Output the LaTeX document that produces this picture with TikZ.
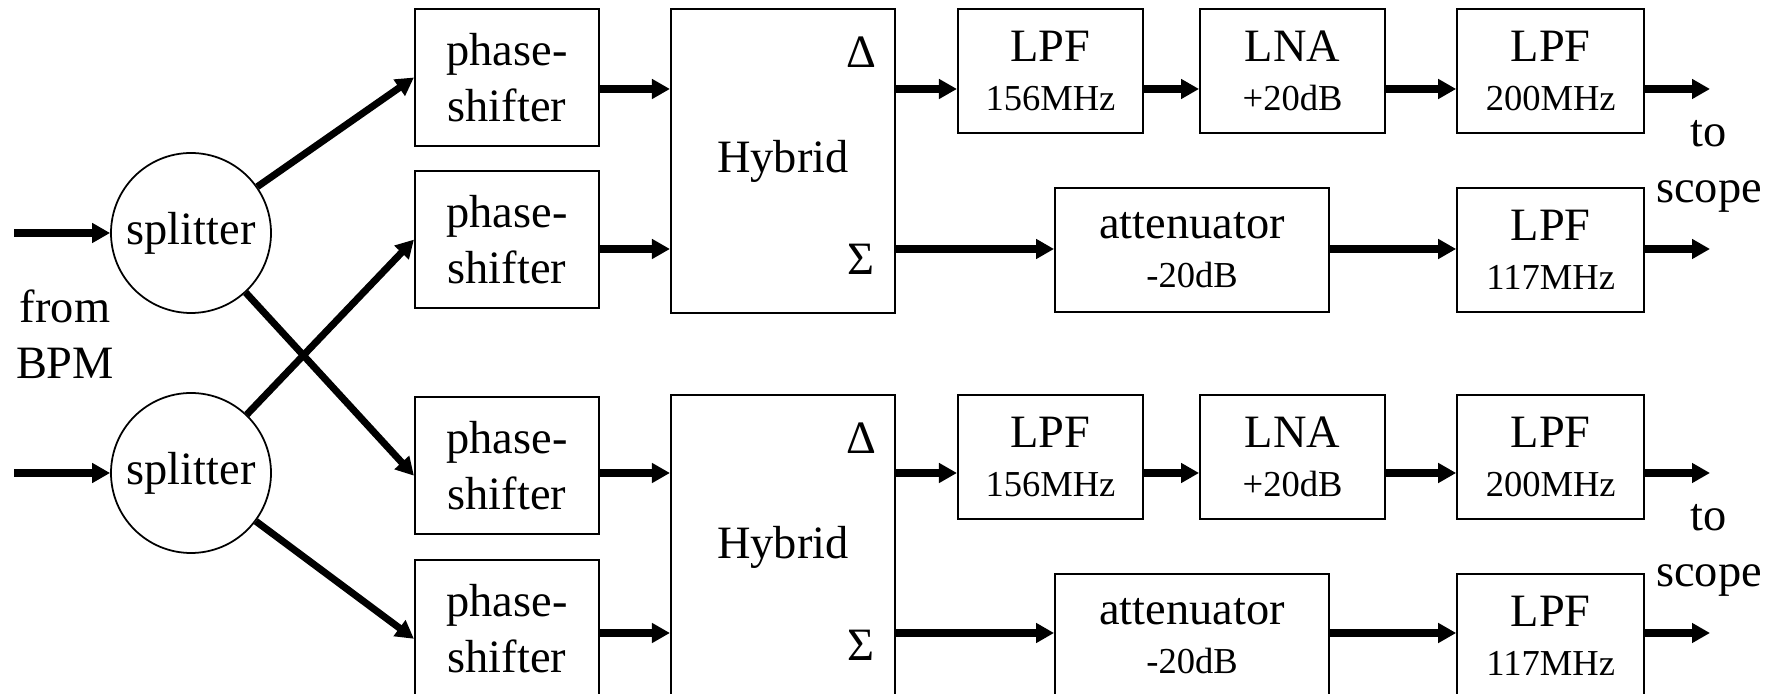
\documentclass[tikz,border=0pt]{standalone}
\usepackage{fontspec}
\setmainfont{Liberation Serif}
\usetikzlibrary{arrows.meta,positioning,calc}
\newcommand{\pequena}{\fontsize{10.4}{12.5}\selectfont}
\tikzset{
  caixa/.style={rectangle, draw, line width=0.6pt, minimum width=1.85cm,
                minimum height=1.24cm, inner sep=0pt, align=center,
                font=\fontsize{13.2}{15.9}\selectfont},
  fase/.style={caixa, minimum width=1.84cm, minimum height=1.37cm},
  hibrido/.style={caixa, minimum width=2.24cm, minimum height=3.04cm},
  divisor/.style={circle, draw, line width=0.5pt, minimum size=1.6cm,
                  inner sep=0pt, font=\fontsize{13.2}{15.9}\selectfont},
  rotulo/.style={inner sep=0pt, align=center, font=\fontsize{13.2}{15.9}\selectfont},
  seta/.style={-{Triangle[length=1.8mm, width=1.9mm]}, line width=2pt},
}

\begin{document}
\begin{tikzpicture}
  \useasboundingbox (0,0) rectangle (17.78,-6.94);

  % niveis das setas horizontais
  \coordinate (d1) at (0,-0.89);
  \coordinate (s1) at (0,-2.49);
  \coordinate (d2) at (0,-4.73);
  \coordinate (s2) at (0,-6.33);

  % entradas
  \coordinate (ent1) at (0.14,-2.33);
  \coordinate (ent2) at (0.14,-4.73);
  \node[divisor] (div1) at (1.91,-2.33) {splitter};
  \node[divisor] (div2) at (1.91,-4.73) {splitter};
  \node[rotulo] (bpm) at (0.65,-3.34) {from\\BPM};

  % defasadores
  \node[fase] (ps1) at (5.07,-0.775) {phase-\\shifter};
  \node[fase, below=0.23cm of ps1] (ps2) {phase-\\shifter};
  \node[fase, below=0.87cm of ps2] (ps3) {phase-\\shifter};
  \node[fase, below=0.24cm of ps3] (ps4) {phase-\\shifter};

  % hibridos
  \node[hibrido] (hib1) at (7.83,-1.61) {Hybrid};
  \node[hibrido, below=0.80cm of hib1] (hib2) {Hybrid};
  \node[rotulo] (del1) at ($(hib1.north east)+(-0.35,-0.445)$) {Δ};
  \node[rotulo] (sig1) at ($(hib1.south east)+(-0.35,0.55)$) {Σ};
  \node[rotulo] (del2) at ($(hib2.north east)+(-0.35,-0.445)$) {Δ};
  \node[rotulo] (sig2) at ($(hib2.south east)+(-0.35,0.55)$) {Σ};

  % cadeia superior
  \node[caixa] (lpfa1) at (10.505,-0.71) {LPF\\[-2pt]{\pequena 156MHz}};
  \node[caixa, right=0.55cm of lpfa1] (lna1) {LNA\\[-2pt]{\pequena +20dB}};
  \node[caixa, right=0.70cm of lna1, minimum width=1.87cm] (lpfb1)
       {LPF\\[-2pt]{\pequena 200MHz}};
  \node[caixa, below=0.53cm of lpfb1, minimum width=1.87cm] (lpfc1)
       {LPF\\[-2pt]{\pequena 117MHz}};
  \node[caixa, left=1.26cm of lpfc1, minimum width=2.74cm] (att1)
       {attenuator\\[-2pt]{\pequena -20dB}};

  % cadeia inferior
  \node[caixa, below=2.60cm of lpfa1] (lpfa2) {LPF\\[-2pt]{\pequena 156MHz}};
  \node[caixa, right=0.55cm of lpfa2] (lna2) {LNA\\[-2pt]{\pequena +20dB}};
  \node[caixa, right=0.70cm of lna2, minimum width=1.87cm] (lpfb2)
       {LPF\\[-2pt]{\pequena 200MHz}};
  \node[caixa, below=0.53cm of lpfb2, minimum width=1.87cm] (lpfc2)
       {LPF\\[-2pt]{\pequena 117MHz}};
  \node[caixa, left=1.26cm of lpfc2, minimum width=2.74cm] (att2)
       {attenuator\\[-2pt]{\pequena -20dB}};

  % saidas
  \coordinate (fim1) at (17.10,-0.89);
  \coordinate (fim2) at (17.10,-2.49);
  \coordinate (fim3) at (17.10,-4.73);
  \coordinate (fim4) at (17.10,-6.33);
  \node[rotulo] (esc1) at (17.09,-1.665) {to\\scope};
  \node[rotulo] (esc2) at (17.09,-5.505) {to\\scope};

  \draw[seta] (ent1) -- (div1);
  \draw[seta] (ent2) -- (div2);
  \draw[seta] (div1) -- (ps1.west);
  \draw[seta] (div1) -- ([yshift=-1mm]ps3.west);
  \draw[seta] (div2) -- (ps2.west);
  \draw[seta] (div2) -- ([yshift=-1mm]ps4.west);

  \draw[seta] (ps1.east |- d1) -- (hib1.west |- d1);
  \draw[seta] (ps2.east |- s1) -- (hib1.west |- s1);
  \draw[seta] (ps3.east |- d2) -- (hib2.west |- d2);
  \draw[seta] (ps4.east |- s2) -- (hib2.west |- s2);

  \draw[seta] (hib1.east |- d1) -- (lpfa1.west |- d1);
  \draw[seta] (lpfa1.east |- d1) -- (lna1.west |- d1);
  \draw[seta] (lna1.east |- d1) -- (lpfb1.west |- d1);
  \draw[seta] (lpfb1.east |- d1) -- (fim1);
  \draw[seta] (hib1.east |- s1) -- (att1.west |- s1);
  \draw[seta] (att1.east |- s1) -- (lpfc1.west |- s1);
  \draw[seta] (lpfc1.east |- s1) -- (fim2);

  \draw[seta] (hib2.east |- d2) -- (lpfa2.west |- d2);
  \draw[seta] (lpfa2.east |- d2) -- (lna2.west |- d2);
  \draw[seta] (lna2.east |- d2) -- (lpfb2.west |- d2);
  \draw[seta] (lpfb2.east |- d2) -- (fim3);
  \draw[seta] (hib2.east |- s2) -- (att2.west |- s2);
  \draw[seta] (att2.east |- s2) -- (lpfc2.west |- s2);
  \draw[seta] (lpfc2.east |- s2) -- (fim4);
\end{tikzpicture}
\end{document}
